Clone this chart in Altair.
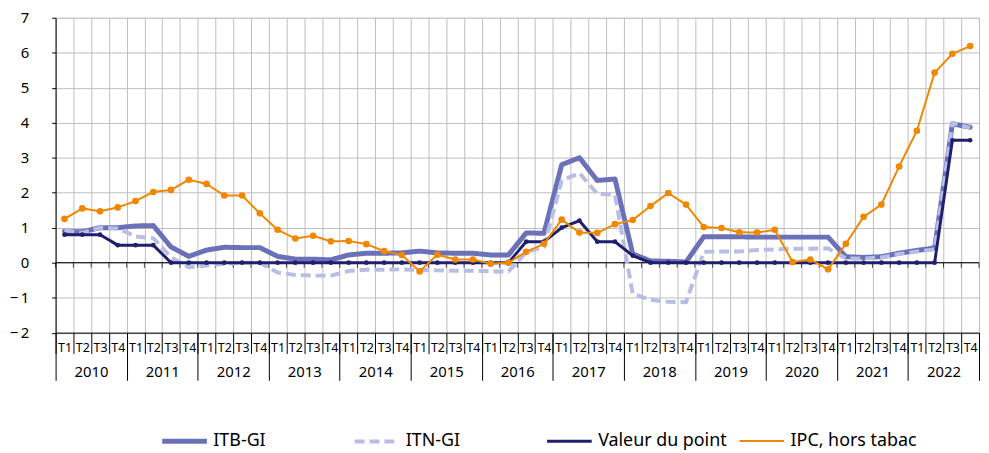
import json
import altair as alt
import pandas as pd

# ---------------- data ----------------
years = [str(y) for y in range(2010, 2023)]
quarters = ["T1", "T2", "T3", "T4"]
series_names = ["ITB-GI", "ITN-GI", "Valeur du point", "IPC, hors tabac"]

itb = [0.90, 0.88, 1.00, 1.00, 1.05, 1.06, 0.45, 0.18,
       0.36, 0.44, 0.43, 0.43, 0.18, 0.10, 0.10, 0.08,
       0.22, 0.27, 0.27, 0.28, 0.33, 0.28, 0.27, 0.27,
       0.22, 0.22, 0.85, 0.84, 2.80, 3.00, 2.35, 2.39,
       0.25, 0.05, 0.04, 0.02, 0.74, 0.74, 0.74, 0.73,
       0.73, 0.73, 0.73, 0.73, 0.17, 0.15, 0.17, 0.27,
       0.35, 0.42, 3.97, 3.87]
itn = [0.93, 0.85, 1.00, 0.98, 0.75, 0.70, 0.15, -0.13,
       -0.08, -0.03, 0.00, 0.00, -0.28, -0.35, -0.37, -0.37,
       -0.24, -0.20, -0.20, -0.19, -0.21, -0.22, -0.23, -0.23,
       -0.25, -0.25, 0.30, 0.45, 2.35, 2.56, 1.97, 1.94,
       -0.89, -1.06, -1.12, -1.13, 0.31, 0.32, 0.32, 0.36,
       0.38, 0.40, 0.40, 0.41, 0.12, 0.12, 0.15, 0.25,
       0.32, 0.38, 4.00, 3.85]
valeur = [0.8, 0.8, 0.8, 0.5, 0.5, 0.5, 0.0, 0.0,
          0.0, 0.0, 0.0, 0.0, 0.0, 0.0, 0.0, 0.0,
          0.0, 0.0, 0.0, 0.0, 0.0, 0.0, 0.0, 0.0,
          0.0, 0.0, 0.6, 0.6, 1.0, 1.2, 0.6, 0.6,
          0.2, 0.0, 0.0, 0.0, 0.0, 0.0, 0.0, 0.0,
          0.0, 0.0, 0.0, 0.0, 0.0, 0.0, 0.0, 0.0,
          0.0, 0.0, 3.5, 3.5]
ipc = [1.25, 1.55, 1.47, 1.58, 1.76, 2.02, 2.08, 2.37,
       2.25, 1.92, 1.92, 1.41, 0.94, 0.69, 0.77, 0.61,
       0.62, 0.53, 0.33, 0.22, -0.25, 0.23, 0.09, 0.09,
       -0.03, 0.00, 0.31, 0.54, 1.23, 0.86, 0.85, 1.10,
       1.22, 1.62, 1.99, 1.66, 1.02, 0.99, 0.87, 0.86,
       0.94, 0.02, 0.09, -0.19, 0.54, 1.31, 1.66, 2.75,
       3.77, 5.43, 5.97, 6.19]

colors = ["#6A71B9", "#B8BDE3", "#1F1F6E", "#F08700"]
FONT = "Noto Sans"

# ---------------- tables ----------------
n = len(years) * len(quarters)
rows = []
for name, vals in zip(series_names, [itb, itn, valeur, ipc]):
    for i, v in enumerate(vals):
        rows.append({"pos": i + 0.5, "series": name, "value": v})
df = pd.DataFrame(rows)
zero_df = pd.DataFrame({"value": [0]})
ticks_df = pd.DataFrame({"pos": list(range(n + 1)), "value": [0] * (n + 1)})

# ---------------- scales / axes ----------------
xscale = alt.Scale(domain=[0, n], nice=False, zero=False)
yscale = alt.Scale(domain=[-2, 7], nice=False)

yaxis = alt.Axis(
    values=list(range(-2, 8)), title=None,
    labelExpr="datum.value < 0 ? '\u2212\u2009' + abs(datum.value) : '' + datum.value",
    labelFontSize=15, labelFont=FONT, labelColor="black", labelPadding=23,
    tickSize=4, tickColor="black", domainColor="black",
    grid=True, gridColor="#bdbdbd", gridWidth=1,
)
y_enc = alt.Y("value:Q", scale=yscale, axis=yaxis)

ax_qticks = alt.Axis(
    orient="bottom", values=list(range(n + 1)), title=None, labels=False,
    ticks=True, tickSize=21, tickColor="black", tickWidth=1,
    domain=True, domainColor="black", domainWidth=1,
    grid=True, gridColor="#bdbdbd", gridWidth=1,
)
ax_qlabels = alt.Axis(
    orient="bottom", values=[i + 0.5 for i in range(n)], title=None,
    labelExpr=json.dumps(quarters) + "[floor(datum.value) % 4]",
    ticks=False, domain=False, grid=False,
    labelFontSize=12.5, labelFont=FONT, labelColor="black",
    labelBaseline="middle", labelPadding=14.5, labelFlush=False, labelOverlap=False,
)
ax_ysep = alt.Axis(
    orient="bottom", values=list(range(0, n + 1, 4)), title=None, labels=False,
    ticks=True, tickSize=48, tickColor="black", tickWidth=1,
    domain=False, grid=False,
)
ax_ylabels = alt.Axis(
    orient="bottom", values=[4 * k + 2 for k in range(len(years))], title=None,
    labelExpr=json.dumps(years) + "[floor(datum.value / 4)]",
    ticks=False, domain=False, grid=False,
    labelFontSize=15, labelFont=FONT, labelColor="black",
    labelBaseline="middle", labelPadding=39.5, labelFlush=False, labelOverlap=False,
)

legend = alt.Legend(
    title=None, orient="none", legendX=105, legendY=402, direction="horizontal",
    columns=4, gridAlign="all",
    symbolType="stroke", symbolSize=2025, labelFontSize=18, labelFont=FONT,
    labelColor="black", labelOffset=4, columnPadding=4, padding=0,
)
color_enc = alt.Color("series:N", scale=alt.Scale(domain=series_names, range=colors), legend=legend)
dash_enc = alt.StrokeDash(
    "series:N",
    scale=alt.Scale(domain=series_names, range=[[1, 0], [10, 5], [1, 0], [1, 0]]),
    legend=legend,
)
width_enc = alt.StrokeWidth(
    "series:N",
    scale=alt.Scale(type="point", domain=series_names, range=[5, 2], padding=0),
    legend=legend,
)


def line_layer(name, axis, cap="round"):
    return alt.Chart(df).transform_filter(alt.datum.series == name).mark_line(
        strokeCap=cap, strokeJoin="round"
    ).encode(
        x=alt.X("pos:Q", scale=xscale, axis=axis),
        y=y_enc,
        color=color_enc,
        strokeDash=dash_enc,
        strokeWidth=width_enc,
    )


def point_layer(name, axis, size, col):
    return alt.Chart(df).transform_filter(alt.datum.series == name).mark_circle(
        size=size, opacity=1
    ).encode(
        x=alt.X("pos:Q", scale=xscale, axis=axis),
        y=y_enc,
        color=alt.value(col),
    )


zero_rule = alt.Chart(zero_df).mark_rule(color="black", strokeWidth=1).encode(y=y_enc)
zero_ticks = alt.Chart(ticks_df).mark_tick(
    orient="vertical", size=5, thickness=1, color="black", yOffset=2.5
).encode(x=alt.X("pos:Q", scale=xscale, axis=None), y=y_enc)

chart = alt.layer(
    zero_rule,
    zero_ticks,
    line_layer("ITB-GI", ax_qticks),
    line_layer("ITN-GI", ax_qlabels, cap="butt"),
    line_layer("Valeur du point", ax_ysep),
    point_layer("Valeur du point", ax_ylabels, 22, colors[2]),
    line_layer("IPC, hors tabac", None),
    point_layer("IPC, hors tabac", None, 45, colors[3]),
).resolve_axis(x="independent").properties(
    width=931, height=317.5,
    padding={"left": 48, "top": 8, "right": 2, "bottom": 119},
    autosize=alt.AutoSizeParams(type="none"),
).configure_view(stroke=None).configure(background="white")

chart.save("out.html", embed_options={"renderer": "svg", "actions": False})
